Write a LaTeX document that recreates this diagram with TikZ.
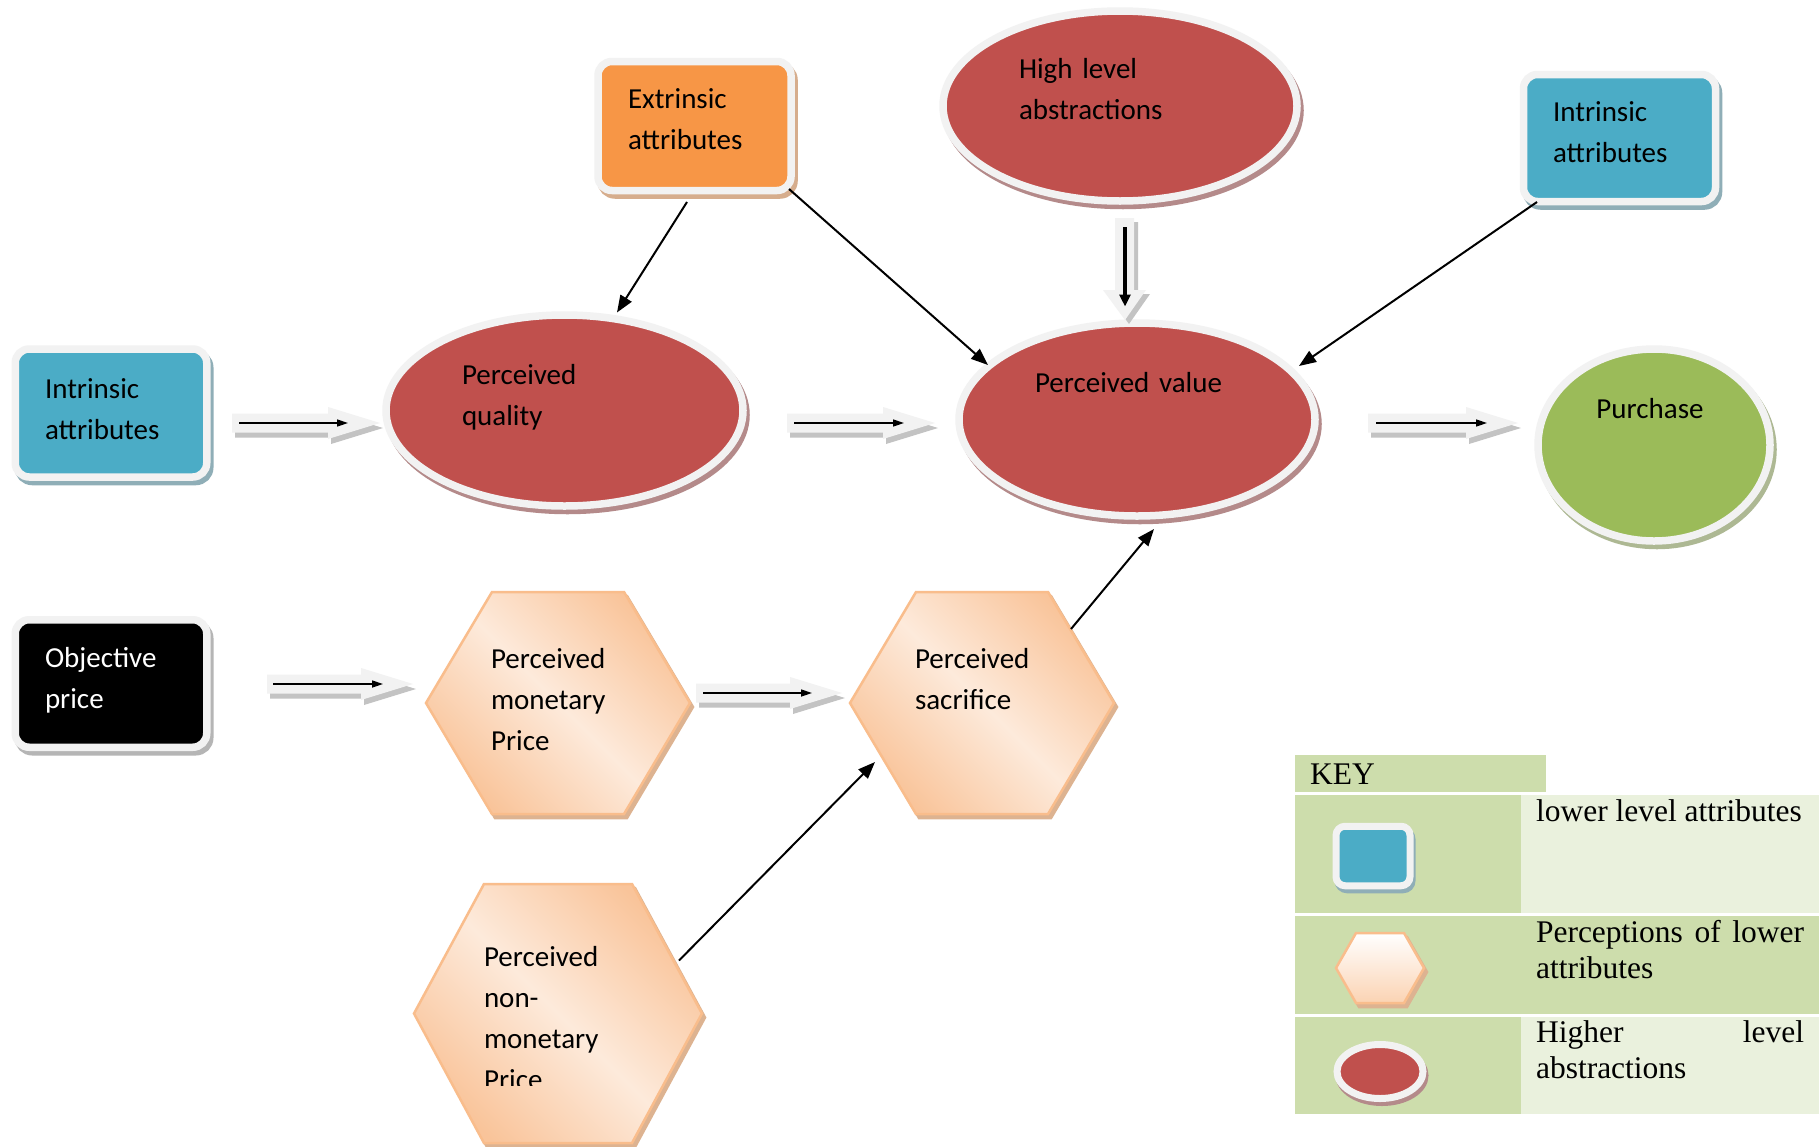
\documentclass[tikz,border=0pt]{standalone}
\usepackage{fontspec}
\setmainfont{Carlito}
\newfontfamily\keyfont{Liberation Serif}
\usetikzlibrary{shapes.geometric,arrows.meta,calc}
\definecolor{cBlue}{HTML}{4BACC6}
\definecolor{cOrange}{HTML}{F79646}
\definecolor{cRed}{HTML}{C0504D}
\definecolor{cGreen}{HTML}{9BBB59}
\definecolor{cRim}{HTML}{F2F2F2}
\definecolor{sBlue}{HTML}{8FAEB7}
\definecolor{sOrange}{HTML}{D6AD8D}
\definecolor{sRed}{HTML}{B48A8A}
\definecolor{sGreen}{HTML}{ADB893}
\definecolor{sBlack}{HTML}{B5B5B5}
\definecolor{hexD}{HTML}{F9C49A}
\definecolor{hexL}{HTML}{FDEADB}
\definecolor{hexB}{HTML}{F9BD8C}
\definecolor{sHex}{HTML}{DDB391}
\definecolor{baL}{HTML}{F2F2F2}
\definecolor{baS}{HTML}{C3C3C3}
\definecolor{keyG}{HTML}{CDDDAC}
\definecolor{keyL}{HTML}{EAF1DD}
\definecolor{keyHex}{HTML}{FBD3B3}

\tikzset{
  rim/.style={draw=cRim, line width=7.5pt, inner sep=0pt, outer sep=0pt},
  shad/.style={preaction={fill=#1, draw=#1, line width=7.5pt, transform canvas={xshift=3pt,yshift=-4.5pt}}},
  rbox/.style={rim, rectangle, rounded corners=14pt},
  oval/.style={rim, ellipse},
  hexframe/.style={rectangle, inner sep=0pt, outer sep=0pt},
  hexfill/.style={draw=hexB, line width=2.5pt, top color=hexD, bottom color=hexD, middle color=hexL, shading angle=-45},
  hexshadow/.style={fill=sHex, draw=sHex, line width=2.5pt},
  lbl/.style={font=\fontsize{29}{41}\selectfont, align=left, text width=250pt, inner sep=0pt, outer sep=0pt, anchor=base west},
  conn/.style={line width=2pt, -{Triangle[length=17pt,width=13pt]}},
  thinarrow/.style={line width=1.6pt, -{Triangle[length=11pt,width=7pt]}},
  keytxt/.style={font=\keyfont\fontsize{31.5}{36}\selectfont, inner sep=0pt, outer sep=0pt, anchor=base west, align=left},
}

\newcommand\drawhex[3]{%
  \path[hexshadow, transform canvas={xshift=3pt,yshift=-4pt}] (#1.west) -- ($(#1.north west)+(#2,0)$) -- ($(#1.north east)+(-#2,0)$) -- (#1.east) -- ($(#1.south east)+(-#2,0)$) -- ($(#1.south west)+(#2,0)$) -- cycle;
  \path[#3] (#1.west) -- ($(#1.north west)+(#2,0)$) -- ($(#1.north east)+(-#2,0)$) -- (#1.east) -- ($(#1.south east)+(-#2,0)$) -- ($(#1.south west)+(#2,0)$) -- cycle;
}

\newcommand\blockh[3]{%
  \begin{scope}[shift={(3,5)}]
    \fill[baS] (#1,#3-9.5) -- (#2-52,#3-9.5) -- (#2-52,#3-16) -- (#2,#3) -- (#2-52,#3+16) -- (#2-52,#3+9.5) -- (#1,#3+9.5) -- cycle;
  \end{scope}
  \fill[baL] (#1,#3-9.5) -- (#2-52,#3-9.5) -- (#2-52,#3-16) -- (#2,#3) -- (#2-52,#3+16) -- (#2-52,#3+9.5) -- (#1,#3+9.5) -- cycle;
}

\begin{document}
\begin{tikzpicture}[x=1pt,y=-1pt]
\useasboundingbox (0,0) rectangle (1819,1146);
\fill[white] (0,0) rectangle (1819,1146);

% ---------- KEY table ----------
\fill[keyG] (1295,755) rectangle (1546,792);
\fill[keyG] (1295,795) rectangle (1521,913);
\fill[keyL] (1521,795) rectangle (1819,913);
\fill[keyG] (1295,916) rectangle (1521,1014);
\fill[keyG] (1521,916) rectangle (1819,1014);
\fill[keyG] (1295,1017) rectangle (1521,1114);
\fill[keyL] (1521,1017) rectangle (1819,1114);

\node[rbox, fill=cBlue, line width=7pt, rounded corners=9pt, minimum width=74pt, minimum height=59.5pt,
      preaction={fill=sBlue, draw=sBlue, line width=7pt, transform canvas={xshift=2pt,yshift=-4pt}}] (kbox) at (1373,856) {};
\node[hexframe, minimum width=88pt, minimum height=70pt] (khex) at (1380,968) {};
\drawhex{khex}{20}{draw=hexB, line width=2.5pt, top color=white, bottom color=keyHex}
\node[oval, fill=cRed, line width=7pt, minimum width=86pt, minimum height=54pt,
      preaction={fill=sRed, draw=sRed, line width=7pt, transform canvas={xshift=2pt,yshift=-4pt}}] (kell) at (1380,1071.5) {};

\node[keytxt] (kkey) at (1310,784) {KEY};
\node[keytxt] (k1) at (1536,821) {lower level attributes};
\node[keytxt, text width=268pt] (k2) at (1536,942) {Perceptions\hfill of\hfill lower\\attributes};
\node[keytxt, text width=268pt] (k3) at (1536,1042) {Higher\hfill level\\abstractions};

% ---------- shapes ----------
\node[rbox, fill=cBlue, shad=sBlue, minimum width=191.5pt, minimum height=128pt] (intrL) at (111,413) {};
\node[rbox, fill=cOrange, shad=sOrange, minimum width=193pt, minimum height=129pt] (ext) at (694.5,126) {};
\node[rbox, fill=cBlue, shad=sBlue, minimum width=192pt, minimum height=127pt] (intrR) at (1619.5,138) {};
\node[rbox, fill=black, shad=sBlack, minimum width=191.5pt, minimum height=127.5pt] (obj) at (111,683.5) {};

\node[oval, fill=cRed, shad=sRed, minimum width=357pt, minimum height=191pt] (pq) at (564.5,410.5) {};
\node[oval, fill=cRed, shad=sRed, minimum width=356pt, minimum height=193pt] (pv) at (1137,419.5) {};
\node[oval, fill=cRed, shad=sRed, minimum width=354pt, minimum height=190pt] (hl) at (1120,106) {};
\node[oval, fill=cGreen, shad=sGreen, minimum width=232pt, minimum height=192pt] (pur) at (1654,445) {};

\node[hexframe, minimum width=264pt, minimum height=222pt] (pmp) at (558,703) {};
\node[hexframe, minimum width=264pt, minimum height=222pt] (psac) at (982,703) {};
\node[hexframe, minimum width=288pt, minimum height=259pt] (pnm) at (558,1013.5) {};
\drawhex{pmp}{66}{hexfill}
\drawhex{psac}{66}{hexfill}
\drawhex{pnm}{70}{hexfill}

% ---------- block arrows ----------
\blockh{232}{380}{423}
\blockh{787}{935}{423}
\blockh{1368}{1518}{423}
\blockh{267}{413}{684}
\blockh{696}{842}{693}
\begin{scope}[shift={(4,4)}]
  \fill[baS] (1115,218) -- (1134,218) -- (1134,290) -- (1146,290) -- (1125,320) -- (1103,290) -- (1115,290) -- cycle;
\end{scope}
\fill[baL] (1115,218) -- (1134,218) -- (1134,290) -- (1146,290) -- (1125,320) -- (1103,290) -- (1115,290) -- cycle;

\coordinate (a1s) at (239,423);  \coordinate (a1e) at (348,423);
\coordinate (a2s) at (794,423);  \coordinate (a2e) at (904,423);
\coordinate (a3s) at (1376,423); \coordinate (a3e) at (1487,423);
\coordinate (a4s) at (273,684);  \coordinate (a4e) at (383,684);
\coordinate (a5s) at (703,693);  \coordinate (a5e) at (812,693);
\draw[thinarrow] (a1s) -- (a1e);
\draw[thinarrow] (a2s) -- (a2e);
\draw[thinarrow] (a3s) -- (a3e);
\draw[thinarrow] (a4s) -- (a4e);
\draw[thinarrow] (a5s) -- (a5e);
\draw[line width=4.5pt, -{Triangle[length=12pt,width=11pt]}] ($(hl.center)+(5,121)$) -- ($(pv.center)+(-12,-113)$);

% ---------- connectors ----------
\draw[conn] ($(ext.center)+(-7.5,76)$) -- ($(pq.center)+(52.5,-98)$);
\draw[conn] ($(ext.center)+(94.5,63)$) -- ($(pv.center)+(-149,-54.5)$);
\draw[conn] ($(intrR.center)+(-82.5,64)$) -- ($(pv.center)+(162,-53.5)$);
\draw[conn] ($(psac.center)+(89,-74)$) -- ($(pv.center)+(17,109.5)$);
\draw[conn] ($(pnm.center)+(121,-53)$) -- ($(psac.center)+(-107,59)$);

% ---------- labels ----------
\node[lbl] (tintrL) at (45,398) {Intrinsic\\attributes};
\node[lbl] (text) at (628,108) {Extrinsic\\attributes};
\node[lbl] (thl) at (1019,78) {High level\\abstractions};
\node[lbl] (tintrR) at (1553,121) {Intrinsic\\attributes};
\node[lbl] (tpq) at (462,384) {Perceived\\quality};
\node[lbl] (tpv) at (1035,392) {Perceived value};
\node[font=\fontsize{29}{41}\selectfont, inner sep=0pt, anchor=base] (tpur) at (1650,418) {Purchase};
\node[lbl, text=white] (tobj) at (45,667) {Objective\\price};
\node[lbl] (tpmp) at (491,668) {Perceived\\monetary\\Price};
\node[lbl] (tpsac) at (915,668) {Perceived\\sacrifice};
\begin{scope}
  \clip (400,884) rectangle (720,1085);
  \node[lbl] (tpnm) at (484,966) {Perceived\\non-\\monetary\\Price};
\end{scope}
\end{tikzpicture}
\end{document}
